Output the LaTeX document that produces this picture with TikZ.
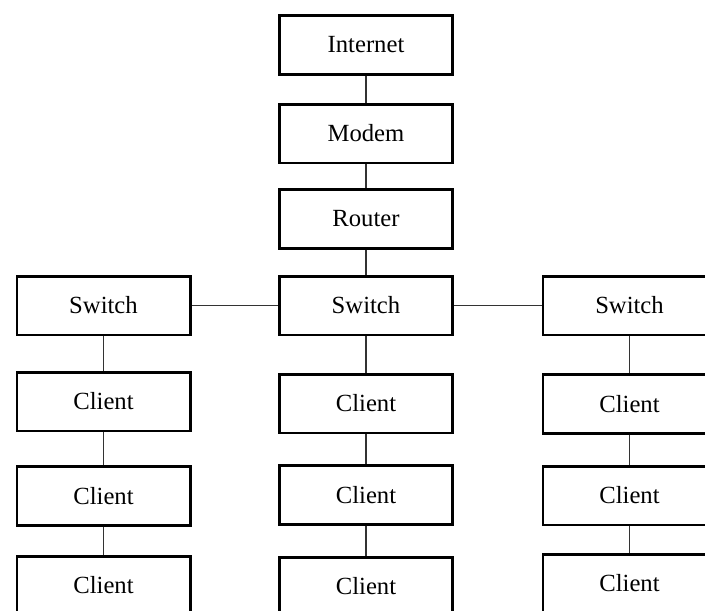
\documentclass[tikz,border=0pt]{standalone}
\usepackage{fontspec}
\setmainfont{Liberation Serif}

\tikzset{
  box/.style={draw, line width=2pt, minimum width=130pt, minimum height=44pt,
    inner sep=0pt, font=\fontsize{18.5}{22}\selectfont},
  link/.style={line width=1pt, draw=black!80}
}

\begin{document}
\begin{tikzpicture}[x=0.75pt, y=-0.75pt]
  \useasboundingbox (0,0) rectangle (705,610);
  \clip (0,0) rectangle (705,610);

  % Uplink chain
  \node[box] (inet) at (366,45) {Internet};
  \node[box] (modem) at (366,133.5) {Modem};
  \node[box] (router) at (366,219) {Router};

  % Switches
  \node[box] (swC) at (366,305.5) {Switch};
  \node[box] (swL) at (103.5,305.5) {Switch};
  \node[box] (swR) at (629.5,305.5) {Switch};

  % Clients
  \foreach \name/\x/\y in {cL1/103.5/401.5, cL2/103.5/496, cL3/103.5/585.5,
                           cC1/366/403.5, cC2/366/495, cC3/366/586.5,
                           cR1/629.5/404, cR2/629.5/495.5, cR3/629.5/583.5}
    \node[box] (\name) at (\x,\y) {Client};

  % Links
  \draw[link] (inet) -- (modem);
  \draw[link] (modem) -- (router);
  \draw[link] (router) -- (swC);
  \draw[link] (swL) -- (swC);
  \draw[link] (swC) -- (swR);
  \foreach \col in {L,C,R} {
    \draw[link] (sw\col) -- (c\col1);
    \draw[link] (c\col1) -- (c\col2);
    \draw[link] (c\col2) -- (c\col3);
  }
\end{tikzpicture}
\end{document}
